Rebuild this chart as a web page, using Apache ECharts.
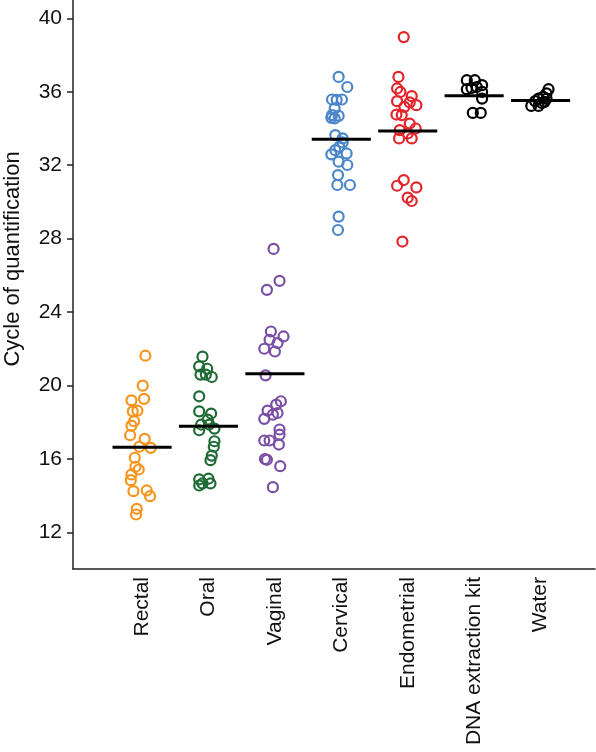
<!DOCTYPE html>
<html>
<head>
<meta charset="utf-8">
<script src="https://cdn.jsdelivr.net/npm/echarts@6/dist/echarts.min.js"></script>
<style>
html,body{margin:0;padding:0;background:#fff;}
#chart{width:596px;height:752px;}
</style>
</head>
<body>
<div id="chart"></div>
<script>
// Categories and colours
var categories = ['Rectal', 'Oral', 'Vaginal', 'Cervical', 'Endometrial', 'DNA extraction kit', 'Water'];
var colors = ['#F7941E', '#1E6B36', '#7A4FA5', '#4A86C8', '#E4242B', '#000000', '#000000'];
var yAxisTitle = 'Cycle of quantification';

// Cycle of quantification values and horizontal jitter (category units)
var rectalValues = [21.62, 19.99, 19.19, 19.27, 18.59, 18.63, 18.05, 17.81, 17.29, 17.09, 16.66, 16.60, 16.06, 15.57, 15.42, 15.15, 14.84, 14.24, 14.28, 13.97, 13.28, 12.97];
var rectalJitter = [0.05, 0.01, -0.16, 0.03, -0.14, -0.07, -0.12, -0.16, -0.18, 0.04, -0.04, 0.13, -0.11, -0.10, -0.05, -0.16, -0.17, -0.13, 0.07, 0.12, -0.08, -0.09];

var oralValues = [21.57, 21.04, 20.91, 20.59, 20.59, 20.46, 19.41, 18.59, 18.47, 18.14, 17.87, 17.87, 17.56, 17.65, 16.96, 16.66, 16.18, 15.93, 14.88, 14.92, 14.66, 14.66, 14.55];
var oralJitter = [-0.09, -0.14, -0.02, -0.12, -0.04, 0.05, -0.14, -0.14, 0.04, -0.01, -0.11, 0.01, -0.14, 0.09, 0.09, 0.08, 0.05, 0.03, -0.14, 0.00, -0.09, 0.03, -0.14];

var vaginalValues = [27.44, 25.70, 25.21, 22.94, 22.67, 22.49, 22.31, 22.00, 21.85, 20.55, 19.14, 18.96, 18.63, 18.41, 18.50, 18.18, 17.60, 17.32, 17.00, 17.00, 16.78, 15.99, 15.95, 15.60, 14.46];
var vaginalJitter = [-0.02, 0.07, -0.12, -0.06, 0.13, -0.08, 0.04, -0.16, 0.00, -0.14, 0.09, 0.02, -0.11, -0.03, 0.04, -0.16, 0.07, 0.07, -0.16, -0.08, 0.06, -0.15, -0.12, 0.08, -0.03];

var cervicalValues = [36.81, 36.26, 35.58, 35.58, 35.56, 35.09, 34.73, 34.69, 34.55, 34.58, 33.64, 33.46, 33.24, 33.00, 32.82, 32.59, 32.64, 32.19, 32.01, 31.46, 30.92, 30.92, 29.20, 28.47];
var cervicalJitter = [-0.04, 0.09, -0.14, 0.01, -0.07, -0.10, -0.14, -0.04, -0.10, -0.15, -0.09, 0.02, 0.02, -0.03, -0.09, -0.15, 0.08, -0.04, 0.09, -0.05, -0.06, 0.13, -0.04, -0.05];

var endometrialValues = [38.98, 36.81, 36.18, 35.99, 35.76, 35.49, 35.42, 35.27, 35.18, 34.76, 34.73, 34.27, 33.91, 34.00, 33.73, 33.46, 33.46, 31.19, 30.88, 30.79, 30.23, 30.05, 27.84];
var endometrialJitter = [-0.06, -0.14, -0.16, -0.11, 0.06, -0.16, 0.03, 0.13, -0.05, -0.17, -0.09, 0.03, -0.12, 0.12, 0.00, -0.13, 0.06, -0.06, -0.16, 0.13, 0.00, 0.06, -0.08];

var dnaKitValues = [36.63, 36.63, 36.14, 36.21, 36.26, 36.36, 35.99, 35.63, 34.85, 34.85];
var dnaKitJitter = [-0.11, 0.01, -0.11, -0.04, 0.04, 0.12, 0.12, 0.12, -0.02, 0.10];

var waterValues = [36.14, 35.91, 35.72, 35.63, 35.49, 35.23, 35.23, 35.45, 35.63, 35.39];
var waterJitter = [0.12, 0.09, 0.04, -0.03, -0.08, -0.14, -0.03, 0.06, 0.09, 0.02];

// Median lines
var medians = [16.63, 17.78, 20.64, 33.42, 33.86, 35.78, 35.52];

// Y axis tick values
var yTicks = [12, 16, 20, 24, 28, 32, 36, 40];

var groupValues = [rectalValues, oralValues, vaginalValues, cervicalValues, endometrialValues, dnaKitValues, waterValues];
var groupJitter = [rectalJitter, oralJitter, vaginalJitter, cervicalJitter, endometrialJitter, dnaKitJitter, waterJitter];

var FONT = '"Liberation Sans", Arial, sans-serif';
var series = [];
groupValues.forEach(function (vals, i) {
  var pos = i + 1;
  series.push({
    type: 'scatter',
    name: categories[i],
    symbol: 'circle',
    symbolSize: 10,
    itemStyle: { color: 'rgba(255,255,255,0)', borderColor: colors[i], borderWidth: 2.2, opacity: 1 },
    emphasis: { disabled: true },
    data: vals.map(function (v, k) { return [pos + groupJitter[i][k], v]; }),
    z: 2
  });
});
medians.forEach(function (m, i) {
  var pos = i + 1;
  series.push({
    type: 'line',
    symbol: 'none',
    lineStyle: { color: '#000', width: 3 },
    data: [[pos - 0.445, m], [pos + 0.445, m]],
    z: 3,
    silent: true
  });
});

var chart = echarts.init(document.getElementById('chart'), null, { renderer: 'canvas' });
chart.setOption({
  animation: false,
  backgroundColor: '#fff',
  grid: { left: 73, right: 1, top: 0, bottom: 183, containLabel: false },
  graphic: [{
    type: 'text',
    x: 13,
    y: 259,
    rotation: Math.PI / 2,
    style: {
      text: yAxisTitle,
      fontSize: 22,
      fontFamily: FONT,
      fill: '#111',
      align: 'center',
      verticalAlign: 'middle'
    }
  }],
  xAxis: {
    type: 'value',
    min: -0.04,
    max: 7.82,
    splitLine: { show: false },
    axisLine: { show: true, onZero: false, lineStyle: { color: '#222', width: 1.5 } },
    axisTick: { show: false },
    axisLabel: {
      customValues: [1, 2, 3, 4, 5, 6, 7],
      formatter: function (v) { return categories[Math.round(v) - 1] || ''; },
      rotate: 90,
      margin: 8,
      fontSize: 21,
      fontFamily: FONT,
      color: '#111'
    }
  },
  yAxis: {
    type: 'value',
    min: 10,
    max: 41,
    splitLine: { show: false },
    axisLine: { show: true, onZero: false, lineStyle: { color: '#222', width: 1.5 } },
    axisTick: { show: true, length: 6, customValues: yTicks, lineStyle: { color: '#222', width: 1.5 } },
    axisLabel: {
      customValues: yTicks,
      margin: 11,
      fontSize: 21,
      fontFamily: FONT,
      color: '#111'
    }
  },
  series: series
});
</script>
</body>
</html>
